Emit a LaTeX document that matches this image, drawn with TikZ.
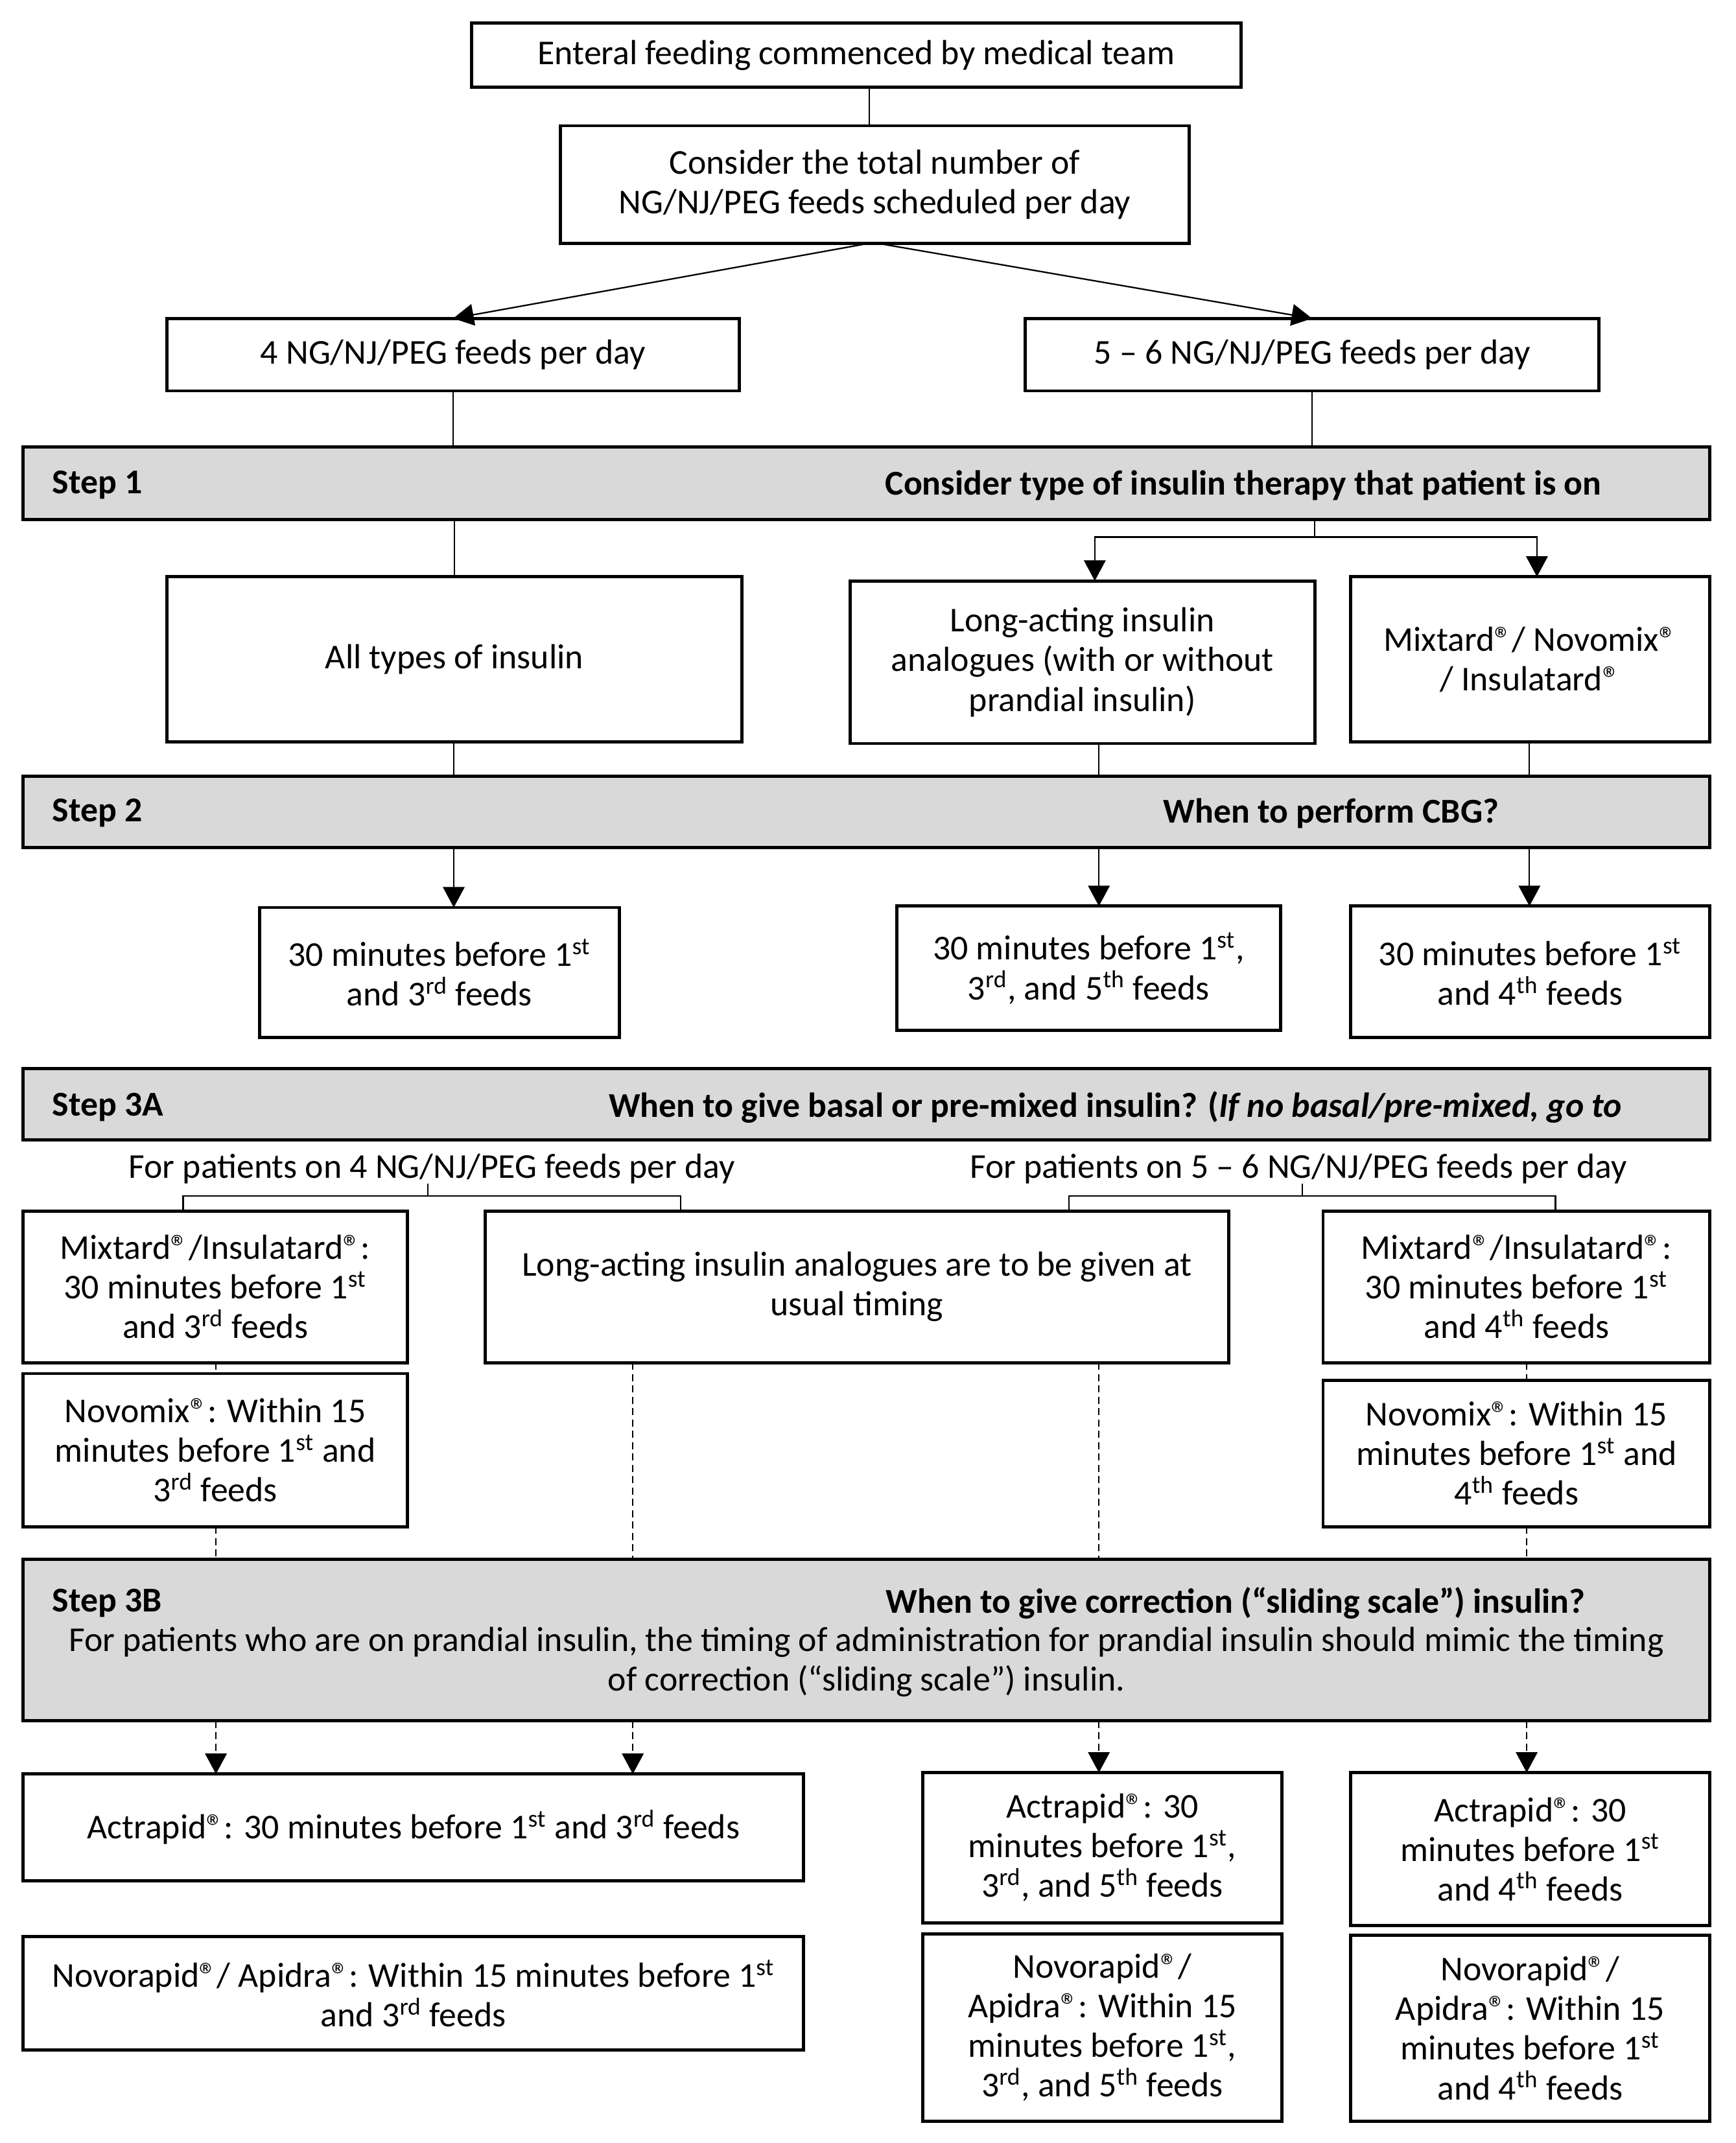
\documentclass[tikz,border=0pt]{standalone}
\usepackage{fontspec}
\setmainfont{Carlito}
\usetikzlibrary{arrows.meta}
\def\uu{0.021087cm}
\newcommand\regm{®}
\newcommand\sps[1]{\textsuperscript{#1}}
\newcommand\mybox[6][]{%
  \node[box,#1,minimum width={(#4-#2)*\uu},minimum height={(#5-#3)*\uu}] (#6) at ({(#2+#4)/2},{(#3+#5)/2})}
\definecolor{bargray}{HTML}{D9D9D9}
\tikzset{
  box/.style={draw, line width=1.4pt, inner sep=2pt, outer sep=0pt, align=center, fill=white,
    font=\fontsize{15.3}{17.4}\selectfont},
  bar/.style={fill=bargray},
  lbl/.style={inner sep=0pt, align=center, font=\fontsize{15.3}{17.4}\selectfont},
  blbl/.style={lbl, font=\fontsize{15.3}{17.4}\selectfont\bfseries},
  conn/.style={line width=0.65pt},
  dconn/.style={conn, dash pattern=on 0.11cm off 0.065cm},
  arr/.style={conn, -{Triangle[length=9pt,width=9.5pt]}},
  darr/.style={arr, dash pattern=on 0.11cm off 0.065cm},
}
\begin{document}
\begin{tikzpicture}[x=\uu, y=-\uu]
\useasboundingbox (0,0) rectangle (1270,1568);
% columns
\coordinate (cA) at (332,0);
\coordinate (cB) at (804,0);
\coordinate (cC) at (1119,0);
\coordinate (dA) at (158,0);
\coordinate (dB) at (463,0);
\coordinate (dC) at (804,0);
\coordinate (dD) at (1117,0);

% top
\mybox{345}{17}{908}{64}{top} {Enteral feeding commenced by medical team};
\mybox{410}{92}{870}{178}{cons} {Consider the total number of\\NG/NJ/PEG feeds scheduled per day};
\mybox{122}{233}{541}{286}{four} {4 NG/NJ/PEG feeds per day};
\mybox{750}{233}{1170}{286}{five} {5 – 6 NG/NJ/PEG feeds per day};
\draw[conn] ([xshift=-4*\uu]cons.north |- top.south) -- ([xshift=-4*\uu]cons.north);
\draw[arr] ([xshift=-4*\uu]cons.south) -- (four.north);
\draw[arr] ([xshift=2*\uu]cons.south) -- (five.north);

% step 1
\mybox[bar]{17}{327}{1251}{380}{s1} {};
\node[blbl, anchor=west] (s1a) at (38,355) {Step 1};
\node[blbl, anchor=east] (s1b) at (1172,355) {Consider type of insulin therapy that patient is on};
\draw[conn] (four.south) -- (four.south |- s1.north);
\draw[conn] (five.south) -- (five.south |- s1.north);

% row 2
\mybox{122}{422}{543}{543}{allt} {All types of insulin};
\mybox{622}{425}{962}{544}{longa} {Long-acting insulin\\analogues (with or without\\prandial insulin)};
\mybox{988}{422}{1251}{543}{mixa} {Mixtard\regm/ Novomix\regm\\/ Insulatard\regm};
\draw[conn] (allt.north |- s1.south) -- (allt.north);
\coordinate (j1) at (962,393);
\draw[conn] (j1 |- s1.south) -- (j1);
\draw[arr] (j1) -| ([xshift=9*\uu]longa.north);
\draw[arr] (j1) -| ([xshift=5*\uu]mixa.north);

% step 2
\mybox[bar]{17}{568}{1251}{620}{s2} {};
\node[blbl, anchor=west] (s2a) at (38,595) {Step 2};
\node[blbl, anchor=east] (s2b) at (1097,595) {When to perform CBG?};
\draw[conn] (cA |- allt.south) -- (cA |- s2.north);
\draw[conn] (cB |- longa.south) -- (cB |- s2.north);
\draw[conn] (cC |- mixa.south) -- (cC |- s2.north);

\mybox{190}{664}{453}{759}{cbgA} {30 minutes before 1\sps{st}\\and 3\sps{rd} feeds};
\mybox{656}{663}{937}{754}{cbgB} {30 minutes before 1\sps{st},\\3\sps{rd}, and 5\sps{th} feeds};
\mybox{988}{663}{1251}{759}{cbgC} {30 minutes before 1\sps{st}\\and 4\sps{th} feeds};
\draw[arr] (cA |- s2.south) -- (cA |- cbgA.north);
\draw[arr] (cB |- s2.south) -- (cB |- cbgB.north);
\draw[arr] (cC |- s2.south) -- (cC |- cbgC.north);

% step 3A
\mybox[bar]{17}{782}{1251}{834}{s3a} {};
\node[blbl, anchor=west] (s3aa) at (38,810) {Step 3A};
\node[blbl, anchor=east] (s3ab) at (1187,810) {When to give basal or pre-mixed insulin? (\textit{If no basal/pre-mixed, go to}};

\node[lbl] (g1) at (316,855) {For patients on 4 NG/NJ/PEG feeds per day};
\node[lbl] (g2) at (950,855) {For patients on 5 – 6 NG/NJ/PEG feeds per day};

\mybox{17}{886}{298}{997}{mixL} {Mixtard\regm/Insulatard\regm:\\30 minutes before 1\sps{st}\\and 3\sps{rd} feeds};
\mybox{355}{886}{899}{997}{longb} {Long-acting insulin analogues are to be given at\\usual timing};
\mybox{968}{886}{1251}{997}{mixR} {Mixtard\regm/Insulatard\regm:\\30 minutes before 1\sps{st}\\and 4\sps{th} feeds};
\mybox{17}{1005}{298}{1117}{novL} {Novomix\regm: Within 15\\minutes before 1\sps{st} and\\3\sps{rd} feeds};
\mybox{968}{1010}{1251}{1117}{novR} {Novomix\regm: Within 15\\minutes before 1\sps{st} and\\4\sps{th} feeds};

% brackets
\coordinate (bl) at (134,875);
\coordinate (br) at (498,875);
\coordinate (bc) at (313,875);
\draw[conn] (bl |- mixL.north) -- (bl) -- (br) -- (br |- longb.north);
\draw[conn] (bc) -- (bc |- g1.south);
\coordinate (rl) at (782,875);
\coordinate (rr) at (1138,875);
\coordinate (rc) at (953,875);
\draw[conn] (rl |- longb.north) -- (rl) -- (rr) -- (rr |- mixR.north);
\draw[conn] (rc) -- (rc |- g2.south);

% step 3B
\mybox[bar]{17}{1141}{1251}{1259}{s3b} {};
\node[blbl, anchor=west] (s3ba) at (38,1173) {Step 3B};
\node[blbl, anchor=east] (s3bb) at (1160,1173) {When to give correction (“sliding scale”) insulin?};
\node[lbl] (s3bc) at (634,1216) {For patients who are on prandial insulin, the timing of administration for prandial insulin should mimic the timing\\of correction (“sliding scale”) insulin.};

% dashed connectors
\draw[dconn] (dA |- mixL.south) -- (dA |- novL.north);
\draw[dconn] (dA |- novL.south) -- (dA |- s3b.north);
\draw[dconn] (dB |- longb.south) -- (dB |- s3b.north);
\draw[dconn] (dC |- longb.south) -- (dC |- s3b.north);
\draw[dconn] (dD |- mixR.south) -- (dD |- novR.north);
\draw[dconn] (dD |- novR.south) -- (dD |- s3b.north);

% bottom boxes
\mybox{17}{1298}{588}{1376}{actL} {Actrapid\regm: 30 minutes before 1\sps{st} and 3\sps{rd} feeds};
\mybox{17}{1417}{588}{1500}{novrL} {Novorapid\regm/ Apidra\regm: Within 15 minutes before 1\sps{st}\\and 3\sps{rd} feeds};
\mybox{675}{1297}{938}{1407}{actM} {Actrapid\regm: 30\\minutes before 1\sps{st},\\3\sps{rd}, and 5\sps{th} feeds};
\mybox{675}{1415}{938}{1552}{novrM} {Novorapid\regm/\\Apidra\regm: Within 15\\minutes before 1\sps{st},\\3\sps{rd}, and 5\sps{th} feeds};
\mybox{988}{1297}{1251}{1409}{actR} {Actrapid\regm: 30\\minutes before 1\sps{st}\\and 4\sps{th} feeds};
\mybox{988}{1416}{1251}{1552}{novrR} {Novorapid\regm/\\Apidra\regm: Within 15\\minutes before 1\sps{st}\\and 4\sps{th} feeds};

\draw[darr] (dA |- s3b.south) -- (dA |- actL.north);
\draw[darr] (dB |- s3b.south) -- (dB |- actL.north);
\draw[darr] (dC |- s3b.south) -- (dC |- actM.north);
\draw[darr] (dD |- s3b.south) -- (dD |- actR.north);
\end{tikzpicture}
\end{document}
